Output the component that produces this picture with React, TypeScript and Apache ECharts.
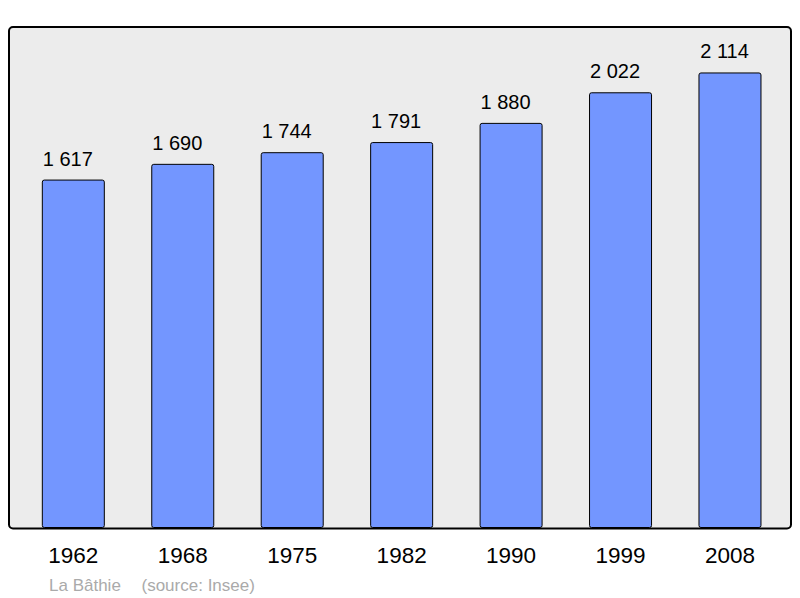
import React, { useEffect, useRef } from "react";
import * as echarts from "echarts";

const years = ["1962", "1968", "1975", "1982", "1990", "1999", "2008"];
const population = [1617, 1690, 1744, 1791, 1880, 2022, 2114];
const placeName = "La Bâthie";
const sourceText = "(source: Insee)";

const fmt = (v: number) => {
  const s = String(v);
  return s.length > 3 ? s.slice(0, s.length - 3) + " " + s.slice(-3) : s;
};

export default function App() {
  const ref = useRef<HTMLDivElement>(null);
  useEffect(() => {
    if (!ref.current) return;
    const chart = echarts.init(ref.current, null, { renderer: "svg" });
    chart.setOption({
      animation: false,
      backgroundColor: "#ffffff",
      textStyle: { fontFamily: "Liberation Sans" },
      graphic: [
        {
          type: "rect",
          z: -10,
          shape: { x: 9, y: 27, width: 782, height: 501.5, r: 4 },
          style: { fill: "#ececec", stroke: "#000000", lineWidth: 2 },
        },
        {
          type: "text",
          x: 49,
          y: 577,
          style: {
            text: placeName,
            fill: "#aaaaaa",
            font: "17px 'Liberation Sans'",
            verticalAlign: "top",
          },
        },
        {
          type: "text",
          x: 141.5,
          y: 577,
          style: {
            text: sourceText,
            fill: "#aaaaaa",
            font: "17px 'Liberation Sans'",
            verticalAlign: "top",
          },
        },
      ],
      grid: { left: 18.6, right: 15.3, top: 27, bottom: 70 },
      xAxis: {
        type: "category",
        data: years,
        axisLine: { show: false },
        axisTick: { show: false },
        axisLabel: {
          fontSize: 22.5,
          color: "#000000",
          margin: 16,
          fontFamily: "Liberation Sans",
          offset: [-1.5, 0],
        },
      },
      yAxis: {
        type: "value",
        min: 0,
        max: 2325,
        show: false,
        splitLine: { show: false },
      },
      series: [
        {
          type: "bar",
          data: population,
          barWidth: 63,
          itemStyle: {
            color: "#7396ff",
            borderColor: "#000000",
            borderWidth: 1,
            borderRadius: 2,
          },
          label: {
            show: true,
            position: "top",
            distance: 11,
            offset: [-5.5, 0],
            fontSize: 20,
            color: "#000000",
            fontFamily: "Liberation Sans",
            formatter: (p: any) => fmt(p.value),
          },
        },
      ],
    });
    return () => chart.dispose();
  }, []);
  return (
    <div
      ref={ref}
      style={{ position: "fixed", left: 0, top: 0, width: 800, height: 598 }}
    />
  );
}
